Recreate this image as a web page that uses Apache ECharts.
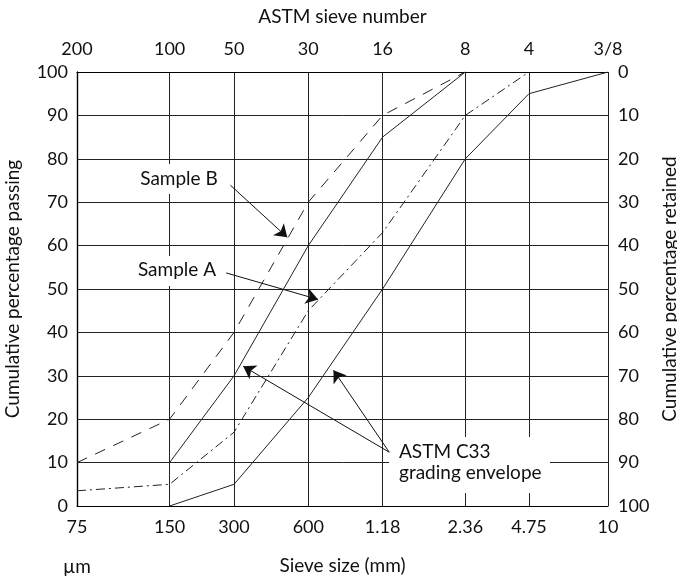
<!DOCTYPE html>
<html>
<head>
<meta charset="utf-8">
<title>Sieve analysis grading curves</title>
<script src="https://cdn.jsdelivr.net/npm/echarts@6/dist/echarts.min.js"></script>
<style>
  html, body { margin: 0; padding: 0; background: #fff; }
  #chart { width: 677px; height: 578px; }
</style>
</head>
<body>
<div id="chart"></div>
<script>
// Sieve sizes (bottom axis) and matching ASTM sieve numbers (top axis)
var sieveSizes = ['75', '150', '300', '600', '1.18', '2.36', '4.75', '10'];
var sieveNumbers = ['200', '100', '50', '30', '16', '8', '4', '3/8'];
// Plotting position of each sieve along the horizontal scale (0–100)
var sievePos = [0, 17.44, 29.57, 43.56, 57.55, 73.13, 85.12, 100];

// Cumulative percentage passing at each sieve (null = not plotted)
var sampleA = [3.5, 5, 17, 45, 63, 90, 100, null];
var sampleB = [10, 20, 40, 70, 90, 100, null, null];
var envelopeUpper = [null, 10, 30, 60, 85, 100, null, null];
var envelopeLower = [null, 0, 5, 25, 50, 80, 95, 100];

// Left axis (passing) and right axis (retained) tick labels
var yTicks = [0, 10, 20, 30, 40, 50, 60, 70, 80, 90, 100];

function toPoints(values) {
  var pts = [];
  for (var i = 0; i < values.length; i++) {
    if (values[i] !== null) pts.push([sievePos[i], values[i]]);
  }
  return pts;
}

var FONT = 'Lato, "Open Sans", sans-serif';
var INK = '#111';
var tickStyle = { fontFamily: FONT, fontSize: 18, color: INK };
var nameStyle = { fontFamily: FONT, fontSize: 19, color: INK };
var NOTE_FONT = '19px ' + FONT;

function labelFor(list) {
  return function (v) {
    var i = sievePos.indexOf(v);
    return i >= 0 ? list[i] : '';
  };
}

var arrowStyle = { type: 'solid', color: INK, width: 1 };
function arrow(from, to) {
  return [{ coord: from, lineStyle: arrowStyle }, { coord: to }];
}

var chart = echarts.init(document.getElementById('chart'), null, { renderer: 'canvas' });

var option = {
  animation: false,
  backgroundColor: '#fff',
  textStyle: { fontFamily: FONT },
  grid: { left: 77, right: 69, top: 72, bottom: 72, outerBoundsMode: 'none' },
  xAxis: [
    {
      type: 'value', position: 'bottom', min: 0, max: 100,
      name: 'Sieve size (mm)', nameLocation: 'middle', nameGap: 50,
      nameTextStyle: nameStyle,
      axisLine: { show: true, lineStyle: { color: '#000', width: 1.2 } },
      axisTick: { show: false, customValues: sievePos },
      axisLabel: Object.assign({ customValues: sievePos, margin: 12, formatter: labelFor(sieveSizes) }, tickStyle),
      splitLine: { show: true, lineStyle: { color: '#222', width: 1 } }
    },
    {
      type: 'value', position: 'top', min: 0, max: 100,
      name: 'ASTM sieve number', nameLocation: 'middle', nameGap: 46,
      nameTextStyle: nameStyle,
      axisLine: { show: true, lineStyle: { color: '#000', width: 1.2 } },
      axisTick: { show: false, customValues: sievePos },
      axisLabel: Object.assign({ customValues: sievePos, margin: 14, formatter: labelFor(sieveNumbers) }, tickStyle),
      splitLine: { show: false }
    }
  ],
  yAxis: [
    {
      type: 'value', position: 'left', min: 0, max: 100, interval: 10,
      name: 'Cumulative percentage passing', nameLocation: 'middle', nameGap: 55,
      nameTextStyle: nameStyle,
      axisLine: { show: true, lineStyle: { color: '#000', width: 1.2 } },
      axisTick: { show: false },
      axisLabel: Object.assign({ margin: 9, formatter: function (v) { return yTicks.indexOf(v) >= 0 ? String(v) : ''; } }, tickStyle),
      splitLine: { show: true, lineStyle: { color: '#222', width: 1 } }
    },
    {
      type: 'value', position: 'right', min: 0, max: 100, interval: 10, inverse: true,
      name: 'Cumulative percentage retained', nameLocation: 'middle', nameGap: 46,
      nameTextStyle: nameStyle,
      axisLine: { show: true, lineStyle: { color: '#000', width: 1.2 } },
      axisTick: { show: false },
      axisLabel: Object.assign({ margin: 10 }, tickStyle),
      splitLine: { show: false }
    }
  ],
  series: [
    {
      name: 'Sample B', type: 'line', data: toPoints(sampleB),
      showSymbol: false, symbol: 'none', z: 3,
      lineStyle: { color: '#222', width: 1, type: [11, 9] },
      markLine: {
        silent: true, symbol: ['none', 'arrow'], symbolSize: 12,
        label: { show: false }, lineStyle: arrowStyle,
        data: [arrow([28.9, 73.9], [39.6, 61.9])]
      }
    },
    {
      name: 'Sample A', type: 'line', data: toPoints(sampleA),
      showSymbol: false, symbol: 'none', z: 3,
      lineStyle: { color: '#222', width: 1, type: [9, 4, 2, 4] },
      markLine: {
        silent: true, symbol: ['none', 'arrow'], symbolSize: 12,
        label: { show: false }, lineStyle: arrowStyle,
        data: [arrow([28.1, 53.7], [45.4, 47.6])]
      }
    },
    {
      name: 'ASTM C33 upper', type: 'line', data: toPoints(envelopeUpper),
      showSymbol: false, symbol: 'none', z: 3,
      lineStyle: { color: '#222', width: 1 },
      markLine: {
        silent: true, symbol: ['none', 'arrow'], symbolSize: 12,
        label: { show: false }, lineStyle: arrowStyle,
        data: [arrow([58.8, 12.4], [31.3, 32.2])]
      }
    },
    {
      name: 'ASTM C33 lower', type: 'line', data: toPoints(envelopeLower),
      showSymbol: false, symbol: 'none', z: 3,
      lineStyle: { color: '#222', width: 1 },
      markLine: {
        silent: true, symbol: ['none', 'arrow'], symbolSize: 12,
        label: { show: false }, lineStyle: arrowStyle,
        data: [arrow([58.8, 12.4], [48.3, 31.3])]
      }
    }
  ],
  graphic: [
    { type: 'rect', z: 5, shape: { x: 137, y: 164, width: 84, height: 30 }, style: { fill: '#fff' } },
    { type: 'rect', z: 5, shape: { x: 134, y: 256, width: 86, height: 30 }, style: { fill: '#fff' } },
    { type: 'rect', z: 5, shape: { x: 389, y: 437, width: 161, height: 56 }, style: { fill: '#fff' } },
    { type: 'text', z: 6, x: 179, y: 179, style: { text: 'Sample B', font: NOTE_FONT, fill: INK, textAlign: 'center', textVerticalAlign: 'middle' } },
    { type: 'text', z: 6, x: 177, y: 270, style: { text: 'Sample A', font: NOTE_FONT, fill: INK, textAlign: 'center', textVerticalAlign: 'middle' } },
    { type: 'text', z: 6, x: 399, y: 452, style: { text: 'ASTM C33', font: NOTE_FONT, fill: INK, textAlign: 'left', textVerticalAlign: 'middle' } },
    { type: 'text', z: 6, x: 399, y: 473, style: { text: 'grading envelope', font: NOTE_FONT, fill: INK, textAlign: 'left', textVerticalAlign: 'middle' } },
    { type: 'text', z: 6, x: 77, y: 567, style: { text: 'µm', font: NOTE_FONT, fill: INK, textAlign: 'center', textVerticalAlign: 'middle' } }
  ]
};

chart.setOption(option);
</script>
</body>
</html>
